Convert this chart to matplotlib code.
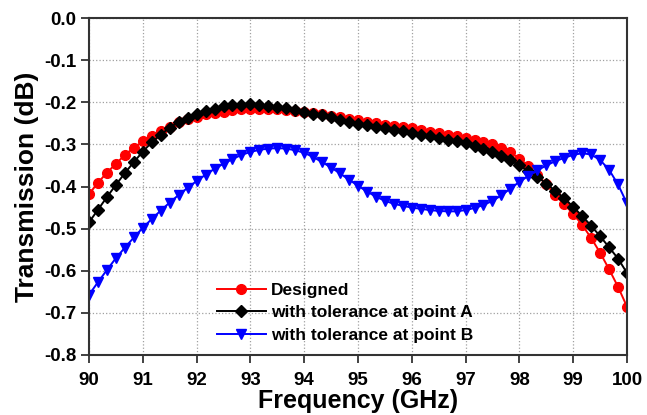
import numpy as np
import matplotlib
matplotlib.use('Agg')
import matplotlib.pyplot as plt

# frequency points (GHz), one every 1/6 GHz
freq = np.linspace(90, 100, 61)

# Transmission (dB)
designed = [-0.418, -0.391, -0.367, -0.346, -0.325, -0.308, -0.293, -0.280, -0.268, -0.258,
            -0.248, -0.240, -0.234, -0.229, -0.225, -0.222, -0.219, -0.217, -0.216, -0.215,
            -0.215, -0.216, -0.218, -0.220, -0.223, -0.226, -0.229, -0.233, -0.236, -0.240,
            -0.243, -0.246, -0.250, -0.253, -0.256, -0.259, -0.262, -0.266, -0.270, -0.274,
            -0.278, -0.281, -0.285, -0.289, -0.294, -0.300, -0.308, -0.319, -0.334, -0.352,
            -0.372, -0.395, -0.419, -0.442, -0.465, -0.491, -0.522, -0.557, -0.596, -0.638,
            -0.685]
tol_a = [-0.485, -0.455, -0.425, -0.396, -0.368, -0.342, -0.317, -0.295, -0.277, -0.260,
         -0.247, -0.237, -0.228, -0.221, -0.215, -0.210, -0.207, -0.206, -0.205, -0.206,
         -0.208, -0.211, -0.214, -0.218, -0.222, -0.227, -0.231, -0.236, -0.241, -0.246,
         -0.251, -0.255, -0.259, -0.262, -0.266, -0.269, -0.273, -0.277, -0.281, -0.285,
         -0.289, -0.293, -0.297, -0.303, -0.310, -0.318, -0.327, -0.338, -0.350, -0.363,
         -0.377, -0.393, -0.410, -0.428, -0.448, -0.470, -0.493, -0.518, -0.544, -0.571,
         -0.605]
tol_b = [-0.657, -0.627, -0.598, -0.570, -0.545, -0.521, -0.498, -0.477, -0.457, -0.438,
         -0.420, -0.403, -0.387, -0.372, -0.358, -0.346, -0.335, -0.325, -0.318, -0.313,
         -0.310, -0.309, -0.310, -0.314, -0.320, -0.330, -0.342, -0.355, -0.369, -0.384,
         -0.398, -0.412, -0.424, -0.434, -0.441, -0.446, -0.450, -0.453, -0.456, -0.458,
         -0.459, -0.459, -0.456, -0.451, -0.444, -0.434, -0.421, -0.405, -0.389, -0.375,
         -0.362, -0.350, -0.340, -0.332, -0.325, -0.321, -0.324, -0.337, -0.360, -0.395,
         -0.440]

xticks = list(range(90, 101))
yticks = [-0.8, -0.7, -0.6, -0.5, -0.4, -0.3, -0.2, -0.1, 0.0]
ytick_labels = ['-0.8', '-0.7', '-0.6', '-0.5', '-0.4', '-0.3', '-0.2', '-0.1', '0.0']

plt.rcParams['font.family'] = ['Liberation Sans', 'DejaVu Sans']
plt.rcParams['font.weight'] = 'bold'

fig = plt.figure(figsize=(6.47, 4.15), dpi=100)
ax = fig.add_axes([0.1376, 0.1446, 0.8314, 0.812])

ax.plot(freq, designed, color='red', marker='o', markersize=7, linewidth=1.4,
        label='Designed')
ax.plot(freq, tol_a, color='black', marker='D', markersize=6, linewidth=1.4,
        label='with tolerance at point A')
ax.plot(freq, tol_b, color='blue', marker='v', markersize=7.5, linewidth=1.4,
        label='with tolerance at point B')

ax.set_xlim(90, 100)
ax.set_ylim(-0.8, 0.0)
ax.set_xticks(xticks)
ax.set_yticks(yticks)
ax.set_yticklabels(ytick_labels)
ax.grid(True, linestyle=':', color='#a0a0a0', linewidth=0.9)

for s in ax.spines.values():
    s.set_linewidth(1.5)
    s.set_color('#333333')
ax.tick_params(direction='out', length=6, width=1.3, labelsize=13.5, colors='#333333',
               labelcolor='black', pad=3)
ax.tick_params(axis='x', pad=6)

ax.set_xlabel('Frequency (GHz)', fontsize=18, fontweight='bold', labelpad=0)
ax.set_ylabel('Transmission (dB)', fontsize=19, fontweight='bold', labelpad=4)

ax.legend(loc='upper left', bbox_to_anchor=(0.225, 0.235), frameon=False,
          fontsize=12.5, handlelength=2.8, borderaxespad=0, labelspacing=0.42,
          handletextpad=0.3)

fig.savefig('out.png', dpi=100)
